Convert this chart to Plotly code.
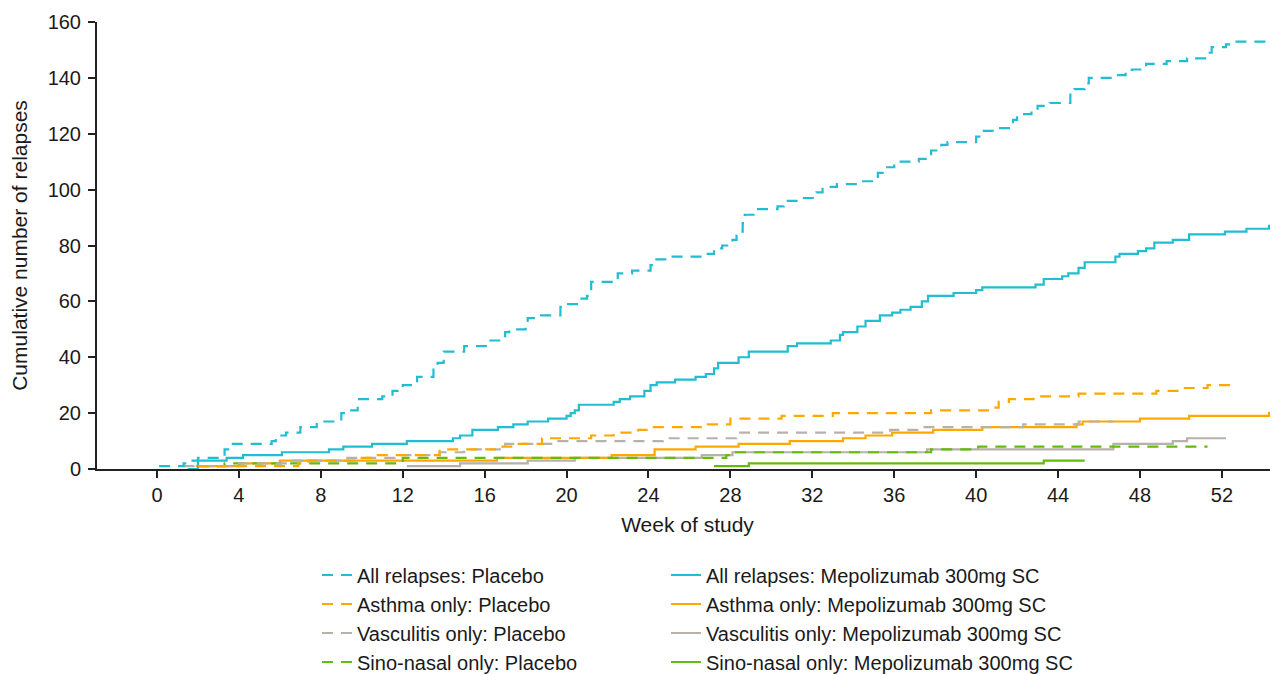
import plotly.graph_objects as go

# ---------------- data (week, cumulative relapses) ----------------
all_pbo_w = [0.1, 1.3, 1.6, 2.0, 3.3, 3.6, 5.6, 5.8, 6.3, 7.0, 7.8, 9.0, 9.3, 9.8, 11.0, 11.5, 11.9, 12.0,
             12.7, 13.5, 13.7, 14.0, 15.0, 16.2, 17.0, 17.2, 18.0, 18.1, 18.75, 19.7, 20.0, 20.6, 21.0, 21.2,
             22.2, 22.5, 23.2, 24.1, 24.3, 24.95, 26.8, 27.2, 27.6, 28.1, 28.3, 28.6, 28.7, 29.2, 30.3, 30.6,
             31.4, 32.2, 32.5, 33.2, 34.2, 35.2, 35.6, 36.0, 37.2, 37.8, 38.3, 38.6, 40.0, 40.3, 40.8, 41.8,
             42.0, 42.7, 43.0, 43.6, 44.6, 44.8, 45.3, 45.5, 46.7, 47.3, 47.6, 48.3, 49.3, 50.3, 51.3, 51.5,
             52.2, 52.5, 54.2]
all_pbo_n = [1, 2, 3, 4, 7, 9, 10, 12, 13, 15, 17, 20, 21, 25, 26, 28, 29, 30,
             33, 37, 38, 42, 44, 46, 49, 50, 53, 54, 55, 58, 59, 61, 62, 67,
             68, 70, 71, 73, 75, 76, 77, 79, 80, 82, 85, 88, 91, 93, 94, 96,
             97, 99, 101, 102, 103, 106, 108, 110, 111, 114, 116, 117, 119, 121, 122, 125,
             127, 128, 130, 131, 134, 136, 138, 140, 141, 142, 143, 145, 146, 147, 149, 151,
             152, 153, 153]

all_mep_w = [1.5, 2.0, 3.4, 4.2, 6.1, 8.4, 9.1, 10.5, 12.2, 14.45, 14.8, 15.4, 16.65, 17.4, 18.1, 19.1,
             20.0, 20.2, 20.4, 20.6, 22.3, 22.6, 23.1, 23.8, 24.1, 24.4, 25.3, 26.3, 26.8, 27.2, 27.4,
             28.4, 28.9, 30.8, 31.25, 32.9, 33.35, 33.5, 34.2, 34.6, 35.3, 35.9, 36.3, 36.8, 37.35,
             37.65, 38.9, 40.0, 40.3, 42.9, 43.3, 44.2, 44.5, 45.0, 45.3, 46.8, 47.0, 47.9, 48.3, 48.7,
             49.6, 50.4, 52.15, 53.2, 54.3, 54.8]
all_mep_n = [0, 3, 4, 5, 6, 7, 8, 9, 10, 11, 12, 14, 15, 16, 17, 18,
             19, 20, 21, 23, 24, 25, 26, 28, 30, 31, 32, 33, 34, 36, 38,
             40, 42, 44, 45, 46, 48, 49, 51, 53, 55, 56, 57, 58, 60,
             62, 63, 64, 65, 66, 68, 69, 70, 72, 74, 76, 77, 78, 79, 81,
             82, 84, 85, 86, 87, 87]

asth_pbo_w = [2.0, 6.9, 7.4, 9.8, 10.5, 13.8, 16.5, 17.6, 18.8, 21.2, 22.3, 23.5, 23.9, 26.9, 28.0,
              30.5, 33.0, 37.8, 40.8, 41.1, 41.6, 42.8, 45.0, 48.8, 50.0, 51.3, 52.6]
asth_pbo_n = [1, 2, 3, 4, 5, 7, 8, 9, 11, 12, 13, 14, 15, 16, 18,
              19, 20, 21, 22, 24, 25, 26, 27, 28, 29, 30, 30]

asth_mep_w = [1.9, 4.0, 6.0, 16.6, 22.2, 24.3, 26.3, 28.4, 30.9, 33.5, 34.6, 35.9, 37.9, 40.3, 44.9,
              45.2, 48.0, 50.4, 54.3, 54.8]
asth_mep_n = [1, 2, 3, 4, 5, 7, 8, 9, 10, 11, 12, 13, 14, 15, 16,
              17, 18, 19, 20, 20]

vasc_pbo_w = [1.3, 4.0, 6.5, 9.0, 11.6, 13.8, 15.0, 17.0, 19.6, 24.7, 28.3, 35.8, 37.2, 42.3, 45.0, 46.7]
vasc_pbo_n = [1, 2, 3, 4, 5, 6, 7, 9, 10, 11, 13, 14, 15, 16, 17, 17]

vasc_mep_w = [12.2, 14.8, 18.1, 20.4, 26.6, 28.1, 37.6, 46.7, 49.6, 50.3, 52.2]
vasc_mep_n = [1, 2, 3, 4, 5, 6, 7, 9, 10, 11, 11]

sino_pbo_w = [2.0, 3.3, 12.0, 27.8, 28.1, 37.8, 40.1, 51.3]
sino_pbo_n = [1, 2, 4, 5, 6, 7, 8, 8]

sino_mep_w = [27.2, 28.9, 43.3, 45.3]
sino_mep_n = [1, 2, 3, 3]

x_ticks = list(range(0, 53, 4))
y_ticks = list(range(0, 161, 20))

CYAN = "#22BDD0"
ORANGE = "#FDA800"
GRAY = "#B7B1AA"
GREEN = "#63BB0C"
DASH = "11px,8px"

placebo = [
    ("All relapses: Placebo", all_pbo_w, all_pbo_n, CYAN),
    ("Asthma only: Placebo", asth_pbo_w, asth_pbo_n, ORANGE),
    ("Vasculitis only: Placebo", vasc_pbo_w, vasc_pbo_n, GRAY),
    ("Sino-nasal only: Placebo", sino_pbo_w, sino_pbo_n, GREEN),
]
mepo = [
    ("All relapses: Mepolizumab 300mg SC", all_mep_w, all_mep_n, CYAN),
    ("Asthma only: Mepolizumab 300mg SC", asth_mep_w, asth_mep_n, ORANGE),
    ("Vasculitis only: Mepolizumab 300mg SC", vasc_mep_w, vasc_mep_n, GRAY),
    ("Sino-nasal only: Mepolizumab 300mg SC", sino_mep_w, sino_mep_n, GREEN),
]

fig = go.Figure()
# draw minor series first so the "All relapses" lines sit on top
for rank in range(3, -1, -1):
    name, w, n, c = mepo[rank]
    fig.add_trace(go.Scatter(x=w, y=n, mode="lines", name=name, legend="legend2",
                             line=dict(color=c, width=2.2, shape="hv"), legendrank=rank + 1))
for rank in range(3, -1, -1):
    name, w, n, c = placebo[rank]
    fig.add_trace(go.Scatter(x=w, y=n, mode="lines", name=name, legend="legend",
                             line=dict(color=c, width=2.2, shape="hv", dash=DASH),
                             legendrank=rank + 1))

# The page body has an 8px margin, so figure coords = page coords - 8
FIG_W, FIG_H = 1270, 667
ML, MT, MR, MB = 89, 14, 0, 206
PLOT_W = FIG_W - ML - MR
PLOT_H = FIG_H - MT - MB
PLOT_BOTTOM = MT + PLOT_H
LEG_TOP = 547.5

FONT = "Liberation Sans, Arial, sans-serif"
fig.update_layout(
    width=FIG_W, height=FIG_H,
    margin=dict(l=ML, r=MR, t=MT, b=MB, autoexpand=False),
    paper_bgcolor="white", plot_bgcolor="white",
    font=dict(family=FONT, size=20, color="#1a1a1a"),
    xaxis=dict(range=[-2.93, 54.74], tickvals=x_ticks, ticks="outside", ticklen=7, tickwidth=2,
               tickcolor="#222", showline=True, linecolor="#222", linewidth=2, showgrid=False,
               zeroline=False, tickfont=dict(size=20), automargin=False,
               title=dict(text="Week of study", font=dict(size=21), standoff=12)),
    yaxis=dict(range=[0, 160], tickvals=y_ticks, ticks="outside", ticklen=7, tickwidth=2,
               tickcolor="#222", showline=True, linecolor="#222", linewidth=2, showgrid=False,
               zeroline=False, tickfont=dict(size=20), automargin=False, ticklabelstandoff=3,
               title=dict(text="Cumulative number of relapses", font=dict(size=21), standoff=15)),
    legend=dict(x=(309 - ML) / PLOT_W, xanchor="left", y=-(LEG_TOP - PLOT_BOTTOM) / PLOT_H,
                yanchor="top", font=dict(size=20), bgcolor="rgba(0,0,0,0)", itemwidth=30,
                traceorder="normal"),
    legend2=dict(x=(658 - ML) / PLOT_W, xanchor="left", y=-(LEG_TOP - PLOT_BOTTOM) / PLOT_H,
                 yanchor="top", font=dict(size=20), bgcolor="rgba(0,0,0,0)", itemwidth=30,
                 traceorder="normal"),
    showlegend=True,
)

fig.write_html("out.html")
